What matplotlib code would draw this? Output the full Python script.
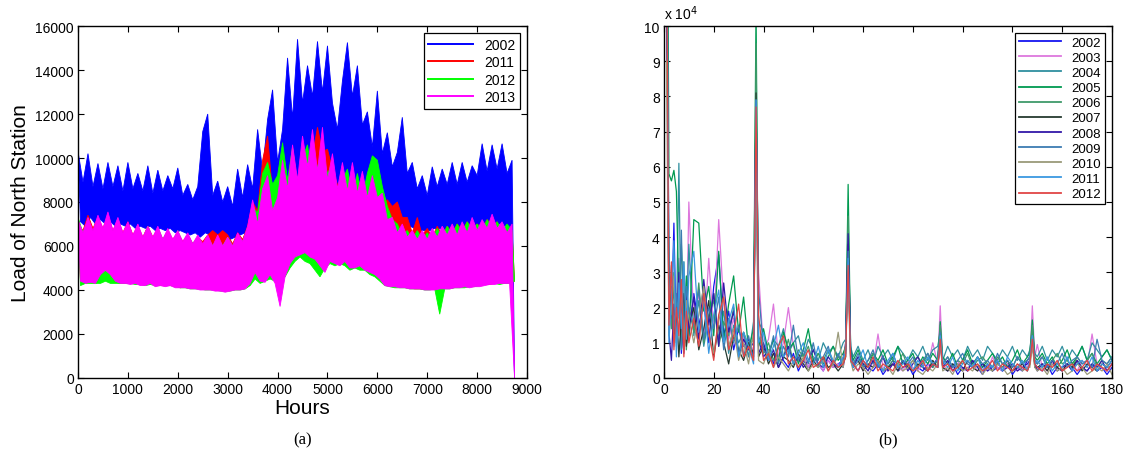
import matplotlib
matplotlib.use("Agg")
import matplotlib.pyplot as plt
from matplotlib.lines import Line2D
import numpy as np

plt.rcParams["font.family"] = ["Liberation Sans", "DejaVu Sans"]

# ---- panel (a): hourly load, read as upper / lower envelope every 100 h ----
hours_hi = np.arange(0, 8800, 100)
hours_lo = hours_hi + 50

load_2002_hi = [
    10300, 8900, 10200, 8700, 9750, 8600, 9800, 8700, 9650, 8500,
    9800, 8600, 9300, 8500, 9650, 8400, 9450, 8500, 9200, 8600,
    9550, 8300, 8800, 8100, 8700, 11200, 12000, 8300, 8950, 8000,
    8700, 7800, 9500, 8200, 9700, 8600, 11300, 9400, 11750, 13100,
    9800, 11300, 14550, 11800, 15400, 12500, 14200, 12800, 15300, 13000,
    15100, 12500, 11300, 13500, 15250, 12800, 14200, 11500, 12100, 10500,
    13050, 10200, 11150, 9600, 10250, 11850, 9300, 9800, 8600, 9200,
    8300, 9600, 8700, 9500, 8800, 9800, 8800, 9800, 8900, 9650,
    9200, 10650, 9400, 10600, 9500, 10650, 9300, 9900]
load_2002_lo = [
    7100, 6900, 7300, 7000, 7200, 7000, 7100, 6900, 7000, 6900,
    7000, 6800, 6900, 6800, 6900, 6700, 6800, 6700, 6800, 6600,
    6700, 6600, 6500, 6600, 6400, 6600, 6500, 6400, 6300, 6400,
    6300, 6400, 6500, 6600, 6800, 7500, 7800, 7600, 8200, 8000,
    7800, 8500, 9000, 8800, 9200, 9000, 8800, 9000, 8600, 9200,
    8800, 9000, 8500, 8600, 9000, 8800, 8400, 8200, 7800, 8000,
    7900, 7500, 7400, 7200, 7000, 7000, 6900, 6800, 6700, 6700,
    6700, 6800, 6800, 6700, 6800, 6800, 6900, 6900, 6800, 6900,
    6900, 7000, 6900, 7000, 7000, 6900, 6900, 0]

load_2011_hi = [
    7000, 6700, 7400, 6800, 7300, 6800, 7400, 6700, 7200, 6600,
    7100, 6500, 6900, 6400, 6900, 6400, 6800, 6300, 6700, 6300,
    6600, 6200, 6500, 6100, 6400, 6200, 6500, 6700, 6500, 6700,
    6500, 6100, 6600, 6300, 6900, 8000, 7600, 9900, 11000, 8400,
    7900, 9600, 8400, 9500, 8900, 10300, 9000, 10100, 11400, 10300,
    10400, 9500, 8800, 8600, 9100, 8400, 9000, 8300, 9000, 8700,
    8300, 8000, 8100, 7800, 8000, 7300, 7300, 6600, 7300, 6500,
    6800, 6400, 6900, 6500, 6900, 6600, 7000, 6700, 7100, 6800,
    7000, 6800, 7200, 6900, 7100, 6700, 6900, 6600]
load_2011_lo = [
    4400, 4300, 4400, 4300, 4500, 4600, 4500, 4400, 4300, 4300,
    4300, 4300, 4300, 4250, 4300, 4200, 4250, 4200, 4250, 4200,
    4100, 4150, 4100, 4100, 4050, 4050, 4050, 4000, 4000, 4000,
    4000, 4050, 4050, 4100, 4300, 4700, 4500, 4600, 4800, 4800,
    4900, 4800, 5400, 5600, 5700, 5900, 5700, 5600, 5200, 5000,
    5400, 5300, 5300, 5400, 5100, 5100, 5200, 5000, 4900, 4900,
    4700, 4300, 4200, 4200, 4150, 4150, 4100, 4050, 4050, 4050,
    4050, 4050, 4100, 4100, 4100, 4150, 4150, 4200, 4200, 4200,
    4200, 4250, 4250, 4300, 4300, 4300, 4350, 4400]

load_2012_hi = [
    7300, 6600, 7200, 6600, 7100, 6600, 7300, 6600, 7100, 6500,
    7000, 6400, 6900, 6300, 6900, 6300, 6800, 6300, 6700, 6200,
    6700, 6100, 6500, 6100, 6400, 6000, 6400, 6000, 6400, 6000,
    6400, 6000, 6500, 6200, 6800, 7800, 7500, 9300, 9800, 8800,
    9200, 10700, 9000, 10500, 8800, 10000, 10600, 9000, 9600, 10300,
    9300, 9700, 8600, 9000, 9500, 8300, 9300, 8200, 9300, 10100,
    9900, 8700, 7800, 7200, 7000, 6500, 6700, 6300, 6700, 6300,
    6600, 6300, 6800, 6400, 6900, 6500, 7000, 6600, 7100, 6700,
    7000, 6700, 7200, 6800, 7100, 6700, 7000, 6700]
load_2012_lo = [
    4200, 4300, 4300, 4300, 4300, 4400, 4300, 4300, 4300, 4300,
    4300, 4250, 4250, 4200, 4250, 4200, 4200, 4200, 4200, 4150,
    4100, 4100, 4050, 4050, 4050, 4000, 4000, 4000, 3950, 3950,
    3950, 4000, 4000, 4050, 4200, 4500, 4300, 4400, 4500, 4400,
    4500, 4600, 5000, 5300, 5500, 5300, 5200, 4900, 4600, 5000,
    5200, 5100, 5200, 5100, 4900, 5000, 4900, 4900, 4700, 4600,
    4400, 4200, 4150, 4100, 4100, 4100, 4050, 4050, 4050, 4000,
    4000, 4050, 2900, 4050, 4050, 4100, 4100, 4100, 4150, 4150,
    4200, 4250, 4300, 4300, 4250, 4300, 4300, 4400]

load_2013_hi = [
    7200, 6600, 7300, 6700, 7400, 6800, 7550, 6700, 7300, 6600,
    7100, 6500, 7000, 6400, 6900, 6400, 6900, 6300, 6800, 6300,
    6700, 6200, 6600, 6100, 6500, 6100, 6500, 6000, 6500, 6000,
    6400, 6000, 6600, 6200, 6900, 8100, 7000, 8600, 9200, 7600,
    8200, 9900, 8600, 10600, 9000, 11000, 9600, 11300, 9400, 11400,
    9000, 10200, 8600, 9800, 8500, 9800, 8400, 9400, 8200, 9200,
    8200, 8400, 7200, 7300, 6600, 7000, 6400, 6700, 6300, 6700,
    6300, 6800, 6400, 6900, 6500, 7000, 6500, 7100, 6600, 7300,
    6700, 7200, 6800, 7450, 6800, 7100, 6600, 7000]
load_2013_lo = [
    4400, 4300, 4350, 4300, 4700, 4900, 4700, 4400, 4300, 4300,
    4250, 4300, 4200, 4200, 4300, 4150, 4200, 4150, 4200, 4100,
    4100, 4100, 4050, 4050, 4000, 4000, 4000, 3950, 3950, 3900,
    3950, 4000, 4000, 4050, 4300, 4800, 4400, 4350, 4700, 4300,
    3250, 4600, 5200, 5500, 5600, 5700, 5500, 5400, 5100, 4800,
    5300, 5200, 5100, 5300, 5000, 5000, 5100, 4900, 4800, 4700,
    4500, 4200, 4150, 4150, 4100, 4100, 4050, 4050, 4050, 4000,
    4000, 4000, 4050, 4050, 4050, 4100, 4100, 4150, 4100, 4150,
    4150, 4200, 4250, 4250, 4300, 4300, 4300, 0]

years_a = ["2002", "2011", "2012", "2013"]
colors_a = ["#0000ff", "#ff0000", "#00ff00", "#ff00ff"]
series_a = [
    (load_2002_hi, load_2002_lo),
    (load_2011_hi, load_2011_lo),
    (load_2012_hi, load_2012_lo),
    (load_2013_hi, load_2013_lo),
]

# ---- panel (b): spectra (units of 1e4) on a shared frequency index ----
freq_idx = np.r_[1:11, 12:37:2, 37, 38:73:2, 73:76, 76:111:2, 111,
                 112:147:2, 147:150, 150:181:2]

spec = {}
spec["2002"] = [
    15, 2.8, 1.5, 4.4, 1.0, 2.6, 0.7, 1.8, 2.3, 1.2,
    2.4, 1.5, 2.1, 1.0, 2.6, 3.5, 1.2, 1.9, 0.8, 1.4, 0.9, 1.1, 0.6,
    8.0,
    1.1, 0.6, 0.8, 0.4, 0.9, 0.5, 0.3, 0.7, 0.2, 0.5, 0.3, 0.6, 0.4, 0.2, 0.5, 0.3, 0.4, 0.5,
    1.0, 4.0, 0.8,
    0.4, 0.2, 0.5, 0.3, 0.2, 0.4, 0.1, 0.3, 0.5, 0.2, 0.3, 0.4, 0.1, 0.3, 0.2, 0.4, 0.3, 0.6,
    1.2,
    0.3, 0.2, 0.4, 0.1, 0.3, 0.2, 0.5, 0.3, 0.1, 0.4, 0.2, 0.3, 0.2, 0.4, 0.1, 0.3, 0.2, 0.5,
    0.6, 1.3, 0.4,
    0.3, 0.2, 0.4, 0.1, 0.3, 0.2, 0.4, 0.3, 0.1, 0.3, 0.2, 0.4, 0.2, 0.3, 0.1, 0.3]
spec["2003"] = [
    18, 1.6, 2.9, 0.9, 1.9, 3.4, 1.2, 2.2, 1.0, 5.0,
    1.6, 2.4, 1.0, 3.4, 1.3, 4.5, 2.1, 1.1, 1.7, 0.7, 1.2, 0.6, 0.9,
    7.5,
    3.0, 0.8, 1.1, 2.1, 0.6, 1.0, 2.0, 0.9, 0.5, 0.7, 0.3, 0.6, 0.4, 0.2, 0.5, 0.3, 0.4, 0.3,
    0.7, 3.6, 0.6,
    0.3, 0.5, 0.2, 0.4, 0.3, 1.25, 0.3, 0.2, 0.4, 0.3, 0.2, 0.5, 0.3, 0.2, 0.4, 0.3, 1.0, 0.4,
    2.05,
    0.4, 0.2, 0.3, 0.5, 0.2, 0.3, 0.4, 0.2, 0.3, 0.2, 0.6, 0.3, 0.2, 0.4, 0.3, 0.2, 0.4, 0.3,
    0.5, 2.05, 0.6,
    0.95, 0.3, 0.2, 0.4, 0.3, 0.2, 0.4, 0.3, 0.2, 0.5, 0.3, 1.25, 0.4, 0.3, 0.2, 0.4]
spec["2004"] = [
    16, 3.0, 1.8, 2.5, 1.4, 6.1, 0.8, 2.0, 1.5, 3.8,
    1.2, 2.2, 0.9, 1.7, 2.4, 1.1, 1.9, 0.7, 1.5, 1.0, 1.3, 0.6, 1.6,
    9.0,
    1.6, 1.3, 0.6, 1.1, 0.9, 1.4, 0.7, 1.0, 1.2, 0.6, 1.1, 0.8, 0.5, 1.0, 0.7, 0.9, 0.6, 1.0,
    1.1, 4.5, 0.9,
    0.6, 0.9, 0.5, 0.8, 0.4, 0.9, 0.6, 0.8, 0.5, 0.9, 0.7, 0.5, 0.8, 0.6, 0.9, 0.5, 0.8, 0.9,
    1.3,
    0.5, 0.9, 0.6, 0.8, 0.5, 0.9, 0.6, 0.8, 0.5, 0.9, 0.7, 0.5, 0.8, 0.6, 0.9, 0.5, 0.8, 0.6,
    0.8, 1.3, 0.7,
    0.6, 0.9, 0.5, 0.8, 0.6, 0.9, 0.5, 0.8, 0.6, 0.9, 0.5, 1.0, 0.8, 0.6, 0.8, 0.5]
spec["2005"] = [
    20, 5.8, 5.6, 5.9, 5.3, 2.3, 3.8, 1.5, 2.9, 1.1,
    4.5, 4.4, 1.9, 2.6, 1.2, 3.6, 1.0, 2.1, 2.9, 1.3, 2.3, 0.8, 1.4,
    10.5,
    0.9, 1.4, 0.7, 1.1, 0.5, 1.3, 0.8, 1.0, 0.4, 0.8, 1.4, 0.5, 0.7, 0.4, 0.6, 0.9, 0.5, 0.7,
    0.9, 5.5, 0.8,
    0.5, 0.8, 0.4, 0.3, 0.7, 0.5, 0.8, 0.4, 0.6, 0.9, 0.4, 0.5, 0.7, 0.3, 0.6, 0.4, 0.7, 0.5,
    1.6,
    0.6, 0.4, 0.7, 0.3, 0.5, 0.8, 0.4, 0.6, 0.3, 0.5, 0.7, 0.4, 0.6, 0.3, 0.5, 0.8, 0.4, 0.6,
    0.7, 1.65, 0.6,
    0.5, 0.7, 0.4, 0.6, 0.3, 0.5, 0.8, 0.4, 0.6, 0.9, 0.5, 0.7, 0.4, 0.6, 0.8, 0.5]
spec["2006"] = [
    14, 2.2, 1.4, 3.0, 0.9, 2.5, 1.6, 3.3, 0.8, 2.0,
    1.3, 2.7, 1.0, 1.8, 2.2, 0.9, 1.6, 1.2, 2.0, 0.7, 1.3, 0.9, 1.1,
    9.5,
    1.2, 0.7, 1.0, 0.5, 0.9, 0.6, 1.1, 0.4, 0.8, 0.6, 0.9, 0.4, 0.7, 0.5, 0.8, 0.4, 0.6, 0.5,
    0.8, 4.6, 0.7,
    0.4, 0.6, 0.3, 0.5, 0.7, 0.4, 0.6, 0.3, 0.5, 0.4, 0.7, 0.3, 0.5, 0.6, 0.4, 0.7, 0.3, 0.5,
    1.5,
    0.4, 0.6, 0.3, 0.5, 0.4, 0.7, 0.3, 0.5, 0.6, 0.4, 0.3, 0.6, 0.4, 0.5, 0.3, 0.6, 0.4, 0.5,
    0.6, 1.5, 0.5,
    0.4, 0.6, 0.3, 0.5, 0.7, 0.4, 0.5, 0.3, 0.6, 0.4, 0.5, 0.7, 0.3, 0.5, 0.4, 0.6]
spec["2007"] = [
    13, 1.8, 2.6, 1.1, 2.0, 0.6, 1.7, 2.4, 0.9, 1.5,
    2.0, 0.8, 1.4, 2.2, 0.6, 1.5, 1.0, 0.4, 1.2, 0.8, 0.5, 1.0, 0.7,
    8.1,
    0.6, 0.9, 0.4, 0.7, 0.3, 0.6, 0.5, 0.3, 0.7, 0.4, 0.2, 0.5, 0.3, 0.6, 0.3, 0.4, 0.2, 0.4,
    0.6, 3.8, 0.5,
    0.3, 0.5, 0.2, 0.4, 0.3, 0.5, 0.2, 0.3, 0.4, 0.2, 0.5, 0.3, 0.2, 0.4, 0.3, 0.2, 0.5, 0.3,
    1.1,
    0.3, 0.2, 0.4, 0.3, 0.2, 0.5, 0.3, 0.2, 0.4, 0.3, 0.2, 0.4, 0.3, 0.5, 0.2, 0.3, 0.4, 0.2,
    0.4, 1.1, 0.3,
    0.3, 0.4, 0.2, 0.5, 0.3, 0.2, 0.4, 0.3, 0.5, 0.2, 0.4, 0.3, 0.2, 0.4, 0.3, 0.5]
spec["2008"] = [
    12, 1.3, 0.5, 2.1, 1.2, 3.0, 1.9, 0.7, 2.5, 1.4,
    2.3, 1.1, 2.8, 1.5, 2.4, 0.9, 2.7, 1.3, 1.9, 0.6, 1.1, 0.8, 1.0,
    7.8,
    0.7, 1.0, 0.5, 0.8, 0.3, 0.6, 0.9, 0.4, 0.6, 0.3, 0.5, 0.8, 0.4, 0.3, 0.6, 0.4, 0.3, 0.5,
    0.9, 4.1, 0.7,
    0.3, 0.6, 0.4, 0.2, 0.5, 0.3, 0.6, 0.2, 0.4, 0.3, 0.5, 0.2, 0.4, 0.6, 0.3, 0.2, 0.4, 0.3,
    1.0,
    0.3, 0.5, 0.2, 0.4, 0.3, 0.2, 0.5, 0.3, 0.4, 0.2, 0.3, 0.5, 0.2, 0.3, 0.4, 0.2, 0.3, 0.4,
    0.5, 1.0, 0.4,
    0.2, 0.4, 0.3, 0.5, 0.2, 0.3, 0.4, 0.2, 0.5, 0.3, 0.2, 0.4, 0.3, 0.5, 0.2, 0.4]
spec["2009"] = [
    15, 2.0, 3.2, 1.3, 2.4, 1.7, 4.2, 1.0, 2.6, 1.9,
    1.5, 2.5, 1.1, 2.0, 1.4, 2.3, 0.8, 1.7, 1.0, 1.5, 0.6, 1.2, 0.5,
    7.9,
    2.5, 0.8, 0.6, 1.2, 0.4, 0.9, 0.6, 1.5, 0.5, 0.8, 0.4, 1.0, 0.3, 0.6, 0.9, 0.4, 0.7, 0.3,
    0.8, 3.6, 0.6,
    0.4, 0.7, 0.3, 0.5, 0.8, 0.3, 0.6, 0.4, 0.7, 0.3, 0.5, 0.4, 0.6, 0.3, 0.5, 0.7, 0.4, 0.5,
    1.3,
    0.4, 0.6, 0.3, 0.5, 0.7, 0.4, 0.3, 0.6, 0.4, 0.5, 0.3, 0.7, 0.4, 0.5, 0.3, 0.6, 0.4, 0.5,
    0.6, 1.2, 0.5,
    0.4, 0.6, 0.3, 0.5, 0.4, 0.7, 0.3, 0.5, 0.6, 0.4, 0.5, 0.3, 1.1, 0.5, 0.4, 0.6]
spec["2010"] = [
    9.0, 1.2, 2.0, 2.9, 1.0, 1.6, 2.5, 0.8, 2.2, 1.7,
    1.0, 1.8, 2.6, 1.2, 0.7, 1.6, 2.3, 0.9, 1.4, 0.5, 1.0, 0.4, 1.3,
    5.8,
    0.5, 0.4, 0.8, 0.3, 0.6, 0.4, 0.2, 0.5, 0.3, 0.6, 0.2, 0.4, 0.3, 0.5, 0.2, 0.4, 1.3, 0.3,
    1.0, 2.6, 0.5,
    0.2, 0.4, 0.3, 0.1, 0.3, 0.5, 0.2, 0.3, 0.1, 0.4, 0.2, 0.3, 0.5, 0.2, 0.1, 0.3, 0.2, 0.4,
    1.0,
    0.2, 0.3, 0.1, 0.4, 0.2, 0.3, 0.2, 0.4, 0.1, 0.3, 0.2, 0.4, 0.3, 0.1, 0.2, 0.4, 0.2, 0.3,
    0.3, 0.9, 0.3,
    0.2, 0.3, 0.1, 0.4, 0.2, 0.3, 0.1, 0.2, 0.4, 0.3, 0.1, 0.2, 0.3, 0.2, 0.4, 0.1]
spec["2011"] = [
    17, 1.0, 2.3, 3.9, 0.6, 2.7, 1.4, 3.3, 1.1, 2.9,
    3.6, 1.3, 2.2, 0.7, 1.8, 2.5, 1.0, 1.6, 2.1, 0.6, 1.3, 0.9, 0.4,
    7.9,
    1.0, 1.3, 0.5, 0.9, 1.5, 0.6, 0.8, 0.4, 0.7, 1.0, 0.5, 0.4, 0.9, 0.3, 0.8, 0.5, 0.3, 0.6,
    0.7, 3.4, 0.6,
    0.3, 0.5, 0.8, 0.3, 0.6, 0.4, 0.2, 0.5, 0.7, 0.3, 0.4, 0.6, 0.2, 0.5, 0.3, 0.6, 0.4, 0.3,
    1.2,
    0.5, 0.3, 0.6, 0.2, 0.4, 0.5, 0.3, 0.6, 0.2, 0.4, 0.3, 0.5, 0.2, 0.6, 0.4, 0.3, 0.5, 0.2,
    0.5, 1.2, 0.4,
    0.5, 0.3, 0.6, 0.2, 0.4, 0.3, 0.6, 0.2, 0.4, 0.5, 0.3, 0.6, 0.2, 0.4, 0.3, 0.5]
spec["2012"] = [
    14, 1.5, 3.3, 0.8, 2.0, 1.2, 2.8, 0.6, 1.9, 1.0,
    1.7, 0.9, 2.4, 1.3, 0.5, 1.8, 2.3, 0.8, 1.2, 2.1, 0.6, 0.9, 0.5,
    7.7,
    1.8, 0.5, 0.7, 0.3, 0.9, 1.2, 0.4, 0.6, 0.3, 0.5, 0.8, 0.3, 0.4, 0.6, 0.2, 0.5, 0.3, 0.4,
    0.6, 3.2, 0.5,
    0.4, 0.2, 0.5, 0.3, 0.6, 0.2, 0.4, 0.3, 0.2, 0.5, 0.3, 0.4, 0.2, 0.3, 0.5, 0.2, 0.4, 0.3,
    1.1,
    0.3, 0.4, 0.2, 0.3, 0.5, 0.2, 0.3, 0.4, 0.2, 0.3, 0.5, 0.2, 0.4, 0.3, 0.2, 0.4, 0.3, 0.2,
    0.4, 1.1, 0.4,
    0.3, 0.2, 0.4, 0.3, 0.5, 0.2, 0.3, 0.4, 0.2, 0.3, 0.5, 0.2, 0.4, 0.3, 0.2, 0.4]

colors_b = {
    "2002": "#1515f0", "2003": "#dd77dd", "2004": "#2f8f9f",
    "2005": "#009a50", "2006": "#3f9a6a", "2007": "#263a30",
    "2008": "#3318a8", "2009": "#3d7cb2", "2010": "#9a9a7a",
    "2011": "#3a98e0", "2012": "#e04545",
}

fig = plt.figure(figsize=(11.24, 4.64), dpi=100)
ax_a = fig.add_axes([0.0694, 0.1832, 0.3995, 0.7586])
ax_b = fig.add_axes([0.5907, 0.1832, 0.3986, 0.7586])

# the hourly trace is so dense it reads as a band: fill between the envelopes
for i, (color, (hi, lo)) in enumerate(zip(colors_a, series_a)):
    px = np.concatenate([hours_hi, hours_lo[::-1]])
    py = np.concatenate([hi, lo[::-1]])
    ax_a.fill(px, py, facecolor=color, edgecolor=color, lw=0.6, zorder=2 + i)

ax_a.set_xlim(0, 9000)
ax_a.set_ylim(0, 16000)
ax_a.set_xticks(np.arange(0, 9001, 1000))
ax_a.set_yticks(np.arange(0, 16001, 2000))
ax_a.set_xlabel("Hours", fontsize=15, labelpad=1)
ax_a.set_ylabel("Load of North Station", fontsize=15, labelpad=4)
handles = [Line2D([], [], color=c, lw=1.4) for c in colors_a]
leg = ax_a.legend(handles, years_a, loc="upper right", fontsize=10,
                  handlelength=3.2, labelspacing=0.25, borderpad=0.35,
                  fancybox=False, framealpha=1, edgecolor="black",
                  borderaxespad=0.5)
leg.get_frame().set_linewidth(0.9)
leg.set_zorder(10)

for year, vals in spec.items():
    ax_b.plot(freq_idx, vals, color=colors_b[year], lw=0.9, label=year)

ax_b.set_xlim(0, 180)
ax_b.set_ylim(0, 10)
ax_b.set_xticks(np.arange(0, 181, 20))
ax_b.set_yticks(np.arange(0, 11, 1))
ax_b.text(0.0, 1.012, r"x 10$^4$", transform=ax_b.transAxes, fontsize=10,
          ha="left", va="bottom")
leg = ax_b.legend(loc="upper right", fontsize=9.5, handlelength=3.2,
                  labelspacing=0.22, borderpad=0.3, fancybox=False,
                  framealpha=1, edgecolor="black", borderaxespad=0.5)
leg.get_frame().set_linewidth(0.9)
for h in leg.get_lines():
    h.set_linewidth(1.3)

for ax in (ax_a, ax_b):
    ax.tick_params(direction="in", top=True, right=True, length=4,
                   width=0.8, labelsize=10, pad=3)
    for sp in ax.spines.values():
        sp.set_linewidth(1.0)
        sp.set_zorder(12)

fig.text(0.2696, 0.05, "(a)", fontsize=12, family="Liberation Serif",
         ha="center", va="center")
fig.text(0.790, 0.05, "(b)", fontsize=12, family="Liberation Serif",
         ha="center", va="center")

fig.savefig("out.png", dpi=100)
